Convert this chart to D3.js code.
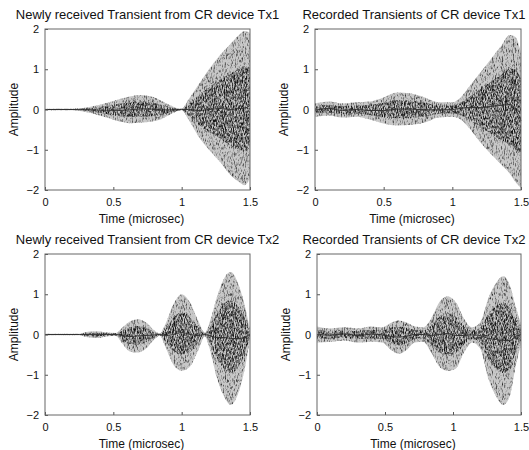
<!DOCTYPE html>
<html>
<head>
<meta charset="utf-8">
<title>CR device transients</title>
<script src="https://cdnjs.cloudflare.com/ajax/libs/d3/7.8.5/d3.min.js"></script>
<style>
  body { margin: 0; background: #fff; }
  svg { font-family: Arial, "Liberation Sans", sans-serif; }
  .tick text { font-size: 11px; fill: #111; }
  .tick line { stroke: #555; }
  .domain { display: none; }
  .frame { fill: none; stroke: #666; stroke-width: 1; }
  .title { font-size: 13px; fill: #111; }
  .xlab, .ylab { font-size: 12px; fill: #111; }
</style>
</head>
<body>
<div id="chart"></div>
<script>
// envelope of each waveform (amplitude vs time in microsec)
var newTx1T = [0, 0.2, 0.28, 0.35, 0.45, 0.55, 0.62, 0.7, 0.78, 0.85, 0.92, 0.97, 1.0, 1.05, 1.12, 1.2, 1.28, 1.35, 1.42, 1.46, 1.5];
var newTx1Up = [0.02, 0.02, 0.04, 0.08, 0.16, 0.26, 0.32, 0.36, 0.32, 0.22, 0.1, 0.03, 0.02, 0.25, 0.6, 1.0, 1.35, 1.6, 1.85, 1.95, 1.9];
var newTx1Lo = [-0.02, -0.02, -0.05, -0.1, -0.2, -0.3, -0.34, -0.33, -0.3, -0.24, -0.12, -0.04, -0.02, -0.25, -0.65, -1.0, -1.3, -1.6, -1.8, -1.88, -1.7];

var recTx1T = [0, 0.1, 0.2, 0.3, 0.4, 0.5, 0.6, 0.7, 0.8, 0.9, 1.0, 1.06, 1.12, 1.2, 1.28, 1.35, 1.42, 1.46, 1.5];
var recTx1Up = [0.15, 0.2, 0.15, 0.18, 0.2, 0.3, 0.42, 0.4, 0.3, 0.18, 0.18, 0.3, 0.55, 0.9, 1.25, 1.55, 1.85, 1.8, 1.4];
var recTx1Lo = [-0.18, -0.15, -0.2, -0.18, -0.25, -0.35, -0.4, -0.38, -0.32, -0.2, -0.18, -0.25, -0.45, -0.8, -1.1, -1.35, -1.6, -1.8, -1.95];

var newTx2T = [0, 0.25, 0.3, 0.38, 0.45, 0.52, 0.56, 0.62, 0.68, 0.74, 0.8, 0.84, 0.88, 0.94, 1.0, 1.06, 1.12, 1.17, 1.2, 1.26, 1.32, 1.36, 1.42, 1.47, 1.5];
var newTx2Up = [0.02, 0.02, 0.06, 0.08, 0.05, 0.04, 0.15, 0.32, 0.38, 0.3, 0.1, 0.03, 0.25, 0.75, 1.0, 0.8, 0.35, 0.05, 0.25, 0.95, 1.45, 1.55, 1.2, 0.6, 0.1];
var newTx2Lo = [-0.02, -0.02, -0.06, -0.09, -0.05, -0.04, -0.2, -0.42, -0.45, -0.35, -0.12, -0.03, -0.3, -0.75, -0.9, -0.8, -0.4, -0.05, -0.3, -1.1, -1.6, -1.75, -1.4, -0.7, -0.1];

var recTx2T = [0, 0.1, 0.2, 0.3, 0.4, 0.48, 0.55, 0.6, 0.66, 0.72, 0.78, 0.84, 0.9, 0.96, 1.02, 1.08, 1.14, 1.2, 1.26, 1.32, 1.37, 1.42, 1.46, 1.5];
var recTx2Up = [0.2, 0.15, 0.18, 0.15, 0.2, 0.18, 0.3, 0.35, 0.3, 0.2, 0.18, 0.4, 0.8, 0.95, 0.8, 0.4, 0.18, 0.3, 0.9, 1.3, 1.45, 1.2, 0.7, 0.25];
var recTx2Lo = [-0.2, -0.18, -0.15, -0.2, -0.18, -0.2, -0.4, -0.48, -0.38, -0.2, -0.18, -0.45, -0.8, -0.9, -0.85, -0.45, -0.2, -0.35, -1.1, -1.55, -1.75, -1.5, -0.8, -0.25];

var titles = ["Newly received Transient from CR device Tx1", "Recorded Transients of CR device Tx1",
              "Newly received Transient from CR device Tx2", "Recorded Transients of CR device Tx2"];
var xTicks = [0, 0.5, 1, 1.5];
var yTicks = [-2, -1, 0, 1, 2];
var xLabel = "Time (microsec)";
var yLabel = "Amplitude";

var width = 529, height = 450;

var svg = d3.select("#chart").append("svg")
  .attr("width", width).attr("height", height);

// grainy vertical streak texture so the bands look like a dense sampled waveform
var defs = svg.append("defs");
function grain(id, freq, seed, gain, bias) {
  var f = defs.append("filter").attr("id", id)
    .attr("x", "0%").attr("y", "0%").attr("width", "100%").attr("height", "100%");
  f.append("feTurbulence").attr("type", "fractalNoise")
    .attr("baseFrequency", freq).attr("numOctaves", 2).attr("seed", seed).attr("result", "n");
  f.append("feColorMatrix").attr("in", "n").attr("type", "matrix")
    .attr("values", "0 0 0 0 0  0 0 0 0 0  0 0 0 0 0  " + gain + " 0 0 0 " + bias)
    .attr("result", "a");
  f.append("feComposite").attr("in", "SourceGraphic").attr("in2", "a").attr("operator", "in");
}
grain("grainOuter", "1.1 0.3", 4, 2.6, -1.25);
grain("grainInner", "1.1 0.35", 9, 2.8, -1.05);

var panels = [
  { t: newTx1T, up: newTx1Up, lo: newTx1Lo, x0: 45, x1: 250, y0: 29, y1: 190, tdx: 0 },
  { t: recTx1T, up: recTx1Up, lo: recTx1Lo, x0: 315, x1: 521, y0: 29, y1: 190, tdx: -4 },
  { t: newTx2T, up: newTx2Up, lo: newTx2Lo, x0: 45, x1: 250, y0: 254, y1: 415, tdx: 0 },
  { t: recTx2T, up: recTx2Up, lo: recTx2Lo, x0: 317, x1: 521, y0: 254, y1: 415, tdx: -5 }
];

panels.forEach(function(p, i) {
  var x = d3.scaleLinear().domain([0, 1.5]).range([p.x0, p.x1]);
  var y = d3.scaleLinear().domain([-2, 2]).range([p.y1, p.y0]);
  var g = svg.append("g");

  var pts = p.t.map(function(t, k) { return { t: t, up: p.up[k], lo: p.lo[k] }; });

  var outer = d3.area().curve(d3.curveMonotoneX)
    .x(function(d) { return x(d.t); })
    .y0(function(d) { return y(d.lo); })
    .y1(function(d) { return y(d.up); });
  var inner = d3.area().curve(d3.curveMonotoneX)
    .x(function(d) { return x(d.t); })
    .y0(function(d) { return y(d.lo * 0.55); })
    .y1(function(d) { return y(d.up * 0.55); });
  var mid = d3.line().curve(d3.curveMonotoneX)
    .x(function(d) { return x(d.t); })
    .y(function(d) { return y((d.up + d.lo) / 2); });

  g.append("path").datum(pts).attr("d", outer).attr("fill", "#c8c8c8");
  g.append("path").datum(pts).attr("d", outer).attr("fill", "#2a2a2a").attr("filter", "url(#grainOuter)");
  g.append("path").datum(pts).attr("d", inner).attr("fill", "#151515").attr("filter", "url(#grainInner)");
  g.append("path").datum(pts).attr("d", mid).attr("fill", "none").attr("stroke", "#333").attr("stroke-width", 1);

  // axes with inward ticks, MATLAB style
  g.append("g").attr("transform", "translate(0," + p.y1 + ")")
    .call(d3.axisBottom(x).tickValues(xTicks).tickSizeInner(-3).tickSizeOuter(0).tickPadding(8)
      .tickFormat(function(d) { return String(d); }));
  g.append("g").attr("transform", "translate(" + p.x0 + ",0)")
    .call(d3.axisLeft(y).tickValues(yTicks).tickSizeInner(-3).tickSizeOuter(0).tickPadding(6)
      .tickFormat(function(d) { return d < 0 ? "\u2212" + Math.abs(d) : String(d); }));

  g.append("rect").attr("class", "frame")
    .attr("x", p.x0).attr("y", p.y0)
    .attr("width", p.x1 - p.x0).attr("height", p.y1 - p.y0);

  var cx = (p.x0 + p.x1) / 2;
  g.append("text").attr("class", "title")
    .attr("x", cx + p.tdx).attr("y", p.y0 - 10).attr("text-anchor", "middle").text(titles[i]);
  g.append("text").attr("class", "xlab")
    .attr("x", cx - 6).attr("y", p.y1 + 33).attr("text-anchor", "middle").text(xLabel);
  g.append("text").attr("class", "ylab")
    .attr("transform", "translate(" + (p.x0 - 27) + "," + ((p.y0 + p.y1) / 2) + ") rotate(-90)")
    .attr("text-anchor", "middle").text(yLabel);
});
</script>
</body>
</html>
